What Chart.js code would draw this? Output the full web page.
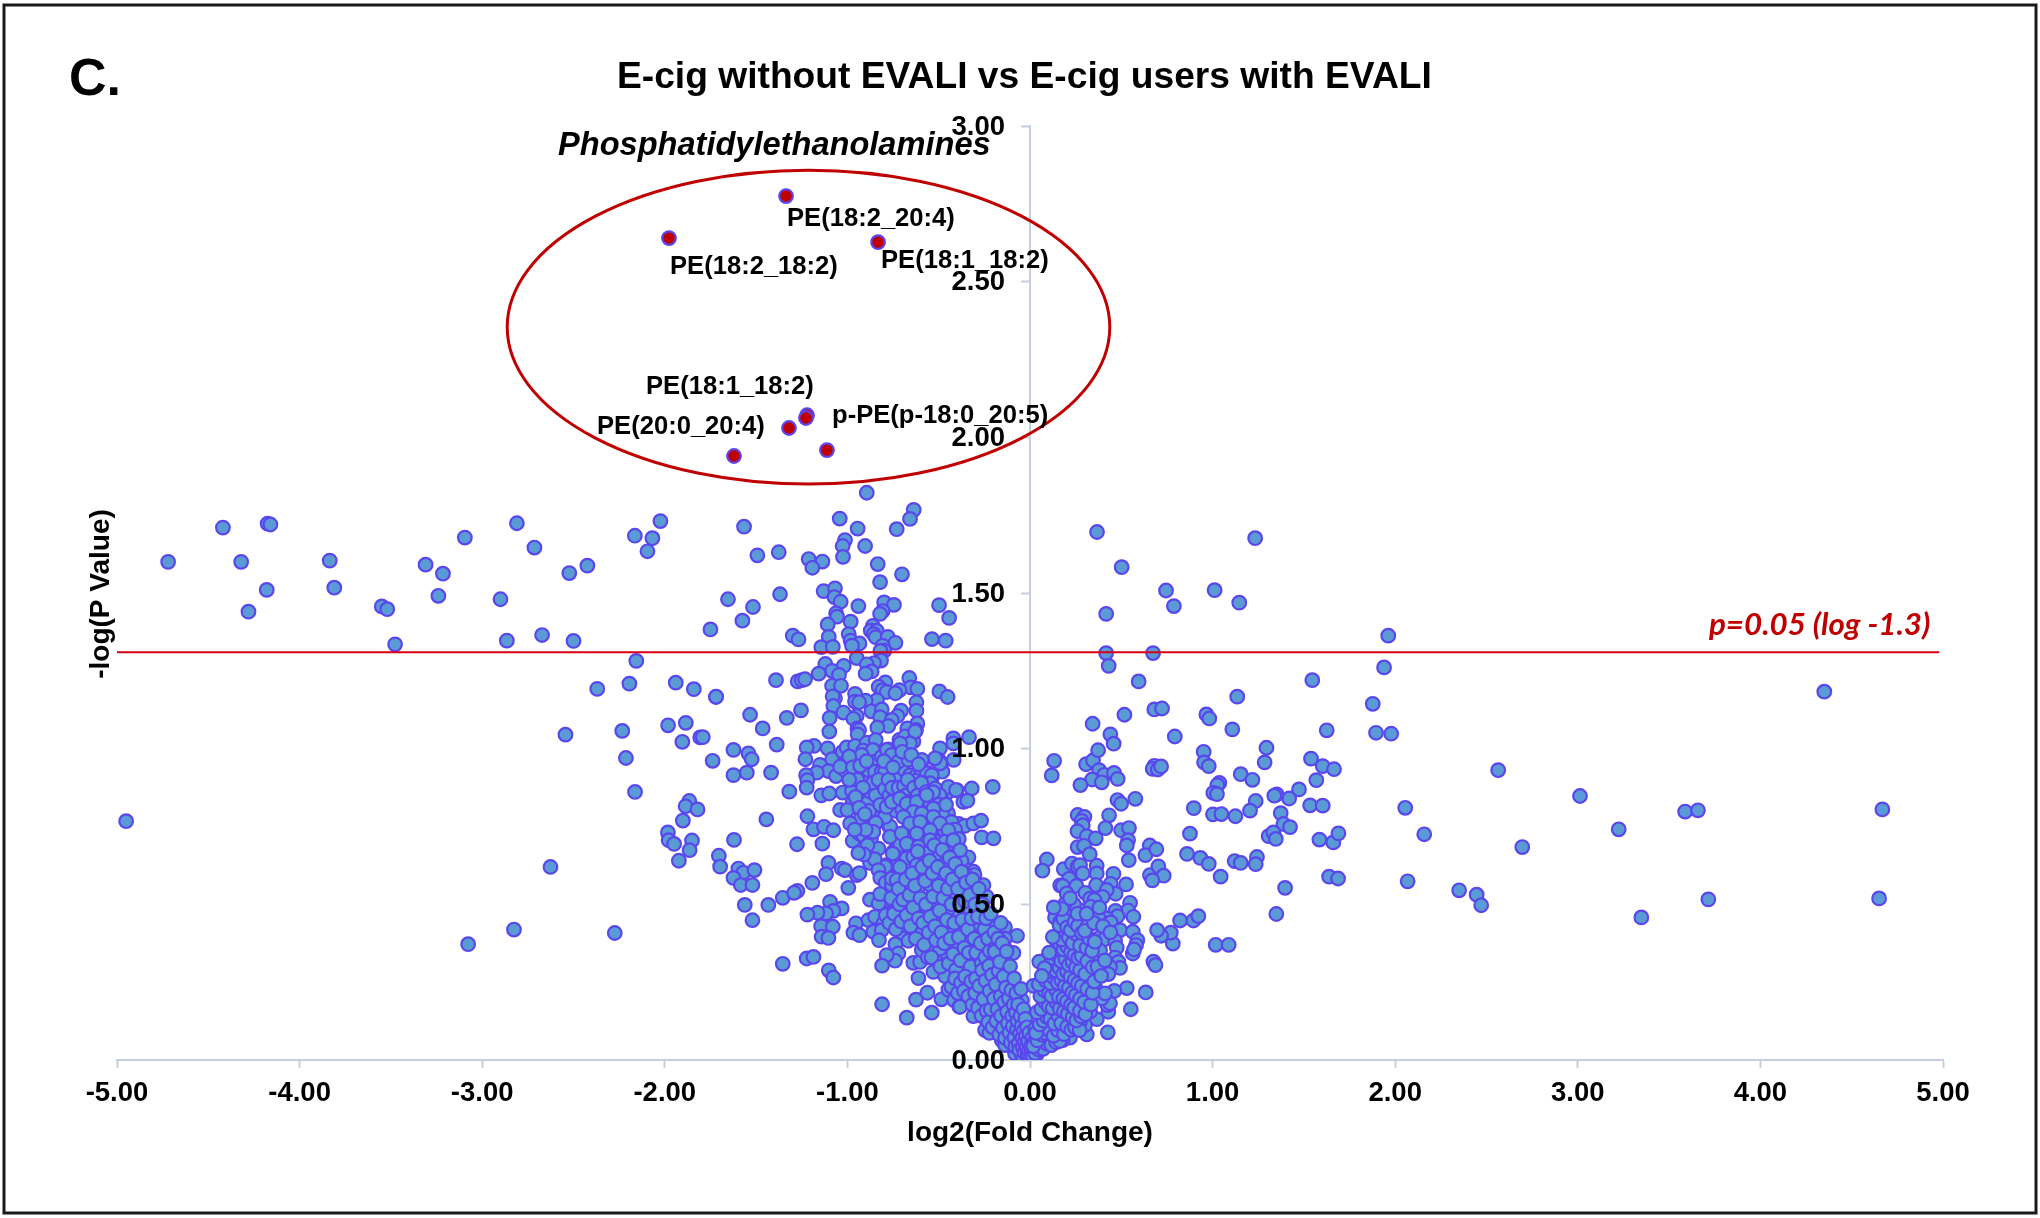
<!DOCTYPE html>
<html>
<head>
<meta charset="utf-8">
<title>E-cig without EVALI vs E-cig users with EVALI</title>
<script src="https://cdn.jsdelivr.net/npm/chart.js@4/dist/chart.umd.min.js"></script>
<style>
html,body{margin:0;padding:0;background:#fff;overflow:hidden}
canvas{display:block}
</style>
</head>
<body>
<canvas id="volcano" width="2040" height="1218"></canvas>
<script>
/* ===== DATA: [log2(fold change), -log(p)] ===== */

const xTicks = [-5,-4,-3,-2,-1,0,1,2,3,4,5]
const yTicks = [0,0.5,1,1.5,2,2.5,3]
const pCutoff = 1.31

const farLeft = [
[-4.95,.767],[-4.72,1.60],[-4.42,1.71],[-4.32,1.60],[-4.18,1.51],[-4.28,1.44],[-4.175,1.723],[-4.16,1.72],
[-3.835,1.604],[-3.81,1.517],[-3.55,1.457],[-3.52,1.448],[-3.477,1.335],[-3.31,1.591],[-3.215,1.562],[-3.24,1.491],
[-3.095,1.678],[-2.81,1.724],[-2.714,1.646],[-2.90,1.48],[-2.865,1.347],[-2.672,1.365],[-2.50,1.346],[-2.523,1.564],
[-2.424,1.588],[-2.164,1.684],[-2.068,1.676],[-2.095,1.634],[-2.024,1.731],[-2.156,1.282],[-2.194,1.209],[-2.37,1.192],
[-2.544,1.045],[-2.233,1.057],[-2.213,.970],[-2.163,.861],[-2.626,.620],[-2.826,.419],[-3.077,.372],[-2.274,.408]
]

const leftEdge = [
[-1.94,1.212],[-1.841,1.191],[-1.982,1.075],[-1.885,1.083],[-1.904,1.022],[-1.806,1.036],[-1.72,1.166],
[-1.866,.832],[-1.886,.815],[-1.821,.805],[-1.901,.769],[-1.983,.731],[-1.979,.706],[-1.949,.694],[-1.851,.705],
[-1.864,.674],[-1.923,.640],[-1.704,.656],[-1.697,.621],[-1.792,1.037],[-1.624,.996],[-1.387,1.013],[-1.542,.985],
[-1.524,.966],[-1.738,.961],[-1.551,.923],[-1.418,.923],[-1.624,.915],[-1.318,.862],[-1.444,.773],[-1.621,.707],
[-1.276,.693],[-1.597,.615],[-1.570,.602],[-1.509,.610],[-1.624,.585],[-1.584,.562],[-1.520,.562],[-1.354,.521],
[-1.433,.498],[-1.562,.498],[-1.520,.449],[-1.354,.309],[-1.533,1.109],[-1.332,1.099],[-1.464,1.065],[-1.719,1.167]
]

const leftUpper = [
[-.894,1.822],[-.637,1.767],[-.657,1.738],[-1.566,1.713],[-1.042,1.739],[-.944,1.707],[-.730,1.705],[-1.013,1.670],
[-1.026,1.651],[-1.024,1.616],[-.903,1.651],[-1.493,1.621],[-1.376,1.631],[-1.212,1.609],[-1.137,1.601],[-1.192,1.581],
[-.834,1.593],[-.701,1.560],[-.821,1.535],[-1.130,1.506],[-1.068,1.515],[-1.071,1.487],[-1.037,1.472],[-1.654,1.480],
[-1.517,1.455],[-1.369,1.496],[-.940,1.458],[-.799,1.470],[-.745,1.462],[-.807,1.442],[-.821,1.433],[-.498,1.461],
[-.443,1.420],[-1.575,1.411],[-1.750,1.383],[-1.062,1.435],[-1.057,1.424],[-1.108,1.399],[-.982,1.408],[-.861,1.394],
[-.872,1.379],[-.840,1.379],[-.856,1.368],[-.845,1.358],[-.993,1.368],[-1.102,1.359],[-.779,1.359],[-.737,1.340],
[-1.299,1.363],[-1.268,1.351],[-.537,1.352],[-.462,1.347],[-.982,1.347],[-.934,1.338],[-.975,1.331],[-1.143,1.326],
[-1.080,1.327],[-.807,1.331],[-.798,1.315],[-.819,1.314],[-.949,1.291],[-.816,1.283],[-.854,1.275],[-.894,1.271],
[-.867,1.248],[-.900,1.241],[-1.121,1.272],[-1.020,1.266],[-1.084,1.250],[-1.046,1.237],[-1.157,1.241],[-1.391,1.220],
[-1.272,1.216],[-1.250,1.220],[-1.232,1.223],[-.661,1.227],[-.792,1.213],[-.829,1.199],[-.807,1.188],[-.653,1.197],
[-.617,1.192],[-.715,1.188],[-.785,1.182],[-.737,1.178],[-1.084,1.202],[-1.035,1.202],[-.496,1.184],[-.451,1.166],
[-.958,1.176],[-1.068,1.162],[-1.081,1.168],[-.838,1.156],[-.900,1.154],[-.958,1.151],[-.936,1.149],[-.622,1.149],
[-.622,1.122],[-1.077,1.137],[-1.022,1.116],[-.869,1.120],[-.812,1.126],[-.706,1.122],[-.726,1.105],[-1.254,1.123],
[-1.097,1.099],[-.949,1.105],[-.967,1.096],[-.821,1.101],[-.757,1.092],[-.776,1.073],[-.836,1.068],[-.617,1.081],
[-.672,1.065],[-.624,1.060],[-1.099,1.055],[-.945,1.065],[-.936,1.060],[-.944,1.046],[-.420,1.033],[-.420,1.017],
[-.334,1.037],[-.493,1.001],[-.418,.964],[-.518,.966],[-.500,.964],[-.489,.944],[-.480,.926]
]

const leftMid = [
[-1.183,1.009],[-1.223,1.004],[-1.230,.966],[-1.108,1.001],[-1.084,.966],[-1.026,.990],[-1.004,1.004],[-.958,1.009],
[-.894,1.019],[-.845,1.028],[-.913,.994],[-.861,.996],[-.949,.964],[-.922,.980],[-1.004,.958],[-.849,.958],[-.812,.974],
[-.776,.998],[-.730,.990],[-.715,1.028],[-.684,1.039],[-.639,1.023],[-.675,.996],[-.693,.955],[-.767,.964],[-.739,.948],
[-.666,.969],[-.593,.960],[-.602,.932],[-1.150,.948],[-1.104,.928],[-1.168,.923],[-1.226,.915],[-1.062,.912],[-1.013,.931],
[-1.040,.942],[-.903,.910],[-.885,.931],[-.849,.926],[-.812,.926],[-.785,.921],[-.739,.912],[-.693,.926],[-.657,.915],
[-.620,.915],[-.556,.921],[-.538,.905],[-.629,1.055],[-.657,1.017],[-.711,1.017],[-.784,.996],[-.757,.98],[-.721,.958],
[-.666,.964],[-.492,.953],[-.52,.969],[-.593,.964],[-.611,.902],[-.602,.937],[-.565,.921],[-.538,.915],[-.547,.889],
[-.739,.902],[-.794,.926],[-1.219,.899],[-1.223,.875],[-1.143,.850],[-1.099,.856],[-1.026,.859],[-.975,.865],[-.971,.829],
[-.903,.847],[-.885,.829],[-.875,.862],[-.812,.854],[-.821,.846],[-.757,.819],[-.803,.787],[-.84,.771],[-.843,.762],
[-.77,.75],[-.401,.867],[-.456,.857],[-.447,.877],[-.520,.872],[-.204,.877],[-.319,.872],[-.405,.867],[-.483,.835],
[-.496,.851],[-.365,.829],[-.343,.833],[-.449,.792],[-.39,.758],[-.357,.752],[-.31,.76],[-.268,.769],[-.264,.715],
[-.2,.712],[-.529,.805],[-.584,.83],[-.629,.857],[-.711,.835],[-.766,.84],[-.73,.808],[-.784,.803],[-.794,.782],[-.638,.776],
[-.666,.771],[-.584,.776],[-.529,.771],[-.502,.739],[-.474,.701],[-.429,.707],[-.456,.728],[-.41,.696],[-.392,.658],
[-.337,.651],[-.31,.605],[-.304,.594],[-.766,.717],[-.766,.75],[-.693,.728],[-.638,.717],[-.575,.701],[-.529,.717],[-.66,.752],
[-.748,.669],[-.711,.691],[-.638,.68],[-.584,.664],[-.51,.669],[-.456,.659],[-.788,.626],[-.721,.632],[-.675,.648],
[-.629,.642],[-.565,.626],[-.51,.642],[-.474,.626],[-.429,.632],[-.401,.616],[-.757,.589],[-.693,.594],[-.611,.605],
[-.547,.589],[-.51,.589],[-.438,.61],[-1.219,.783],[-1.186,.741],[-1.128,.749],[-1.077,.738],[-1.040,.803],[-1.000,.803],
[-.925,.778],[-.858,.781],[-.794,.781],[-.845,.762],[-1.137,.695],[-.971,.704],[-.934,.727],[-.912,.72],[-.871,.708],
[-.858,.733],[-.767,.717],[-.872,.669],[-.830,.679],[-.876,.633],[-.794,.621],[-.752,.663],[-1.104,.633],[-1.117,.597],
[-1.192,.569],[-1.031,.615],[-1.013,.610],[-.949,.594],[-.934,.6],[-.995,.553],[-1.274,.543],[-1.292,.537],
[-.88,.8],[-.86,.89],[-.845,.85],[-.83,.9],[-.82,.82],[-.8,.96],[-.795,.87],[-.775,.9],[-.77,.85],[-.755,.875],[-.75,.94],
[-.735,.8],[-.72,.875],[-.7,.805],[-.7,.99],[-.69,.88],[-.68,.85],[-.67,.9],[-.66,.83],[-.65,.98],[-.645,.77],[-.635,.875],
[-.625,.8],[-.615,.85],[-.61,.95],[-.6,.74],[-.595,.89],[-.58,.72],[-.57,.86],[-.56,.78],[-.555,.68],[-.55,.83],[-.54,.74],
[-.53,.86],[-.525,.65],[-.515,.76],[-.505,.7],[-.5,.82],[-.49,.66],[-.48,.79],[-.47,.74],[-.465,.63],[-.46,.82],[-.44,.68],
[-.43,.765],[-.42,.655],[-.41,.74],[-.39,.71],[-.375,.64],[-.36,.6],
[-.99,.975],[-.97,.94],[-.945,.9],[-.93,.945],[-.915,.875],[-.895,.96],[-.955,.845],[-.99,.9],[-.935,.81],[-.905,.79],
[-.9,.74],[-.89,.69],[-.85,.645],[-.83,.61],[-.82,.585],[-.79,.57],[-.91,.66],[-.94,.665],[-.985,.76],[-.96,.74]
]

const leftLower = [
[-1.095,.508],[-1.031,.487],[-1.077,.479],[-1.117,.471],[-1.164,.473],[-1.219,.467],[-1.144,.430],[-1.080,.428],[-1.141,.396],
[-1.104,.392],[-.876,.515],[-.829,.503],[-.821,.533],[-.748,.508],[-.776,.471],[-.757,.562],[-.688,.535],[-.757,.583],[-.693,.471],
[-.953,.439],[-.885,.449],[-.849,.460],[-.967,.409],[-.934,.401],[-.858,.412],[-.803,.439],[-.812,.417],[-.827,.385],[-.703,.401],
[-.666,.383],[-.684,.433],[-.62,.428],[-.593,.409],[-.737,.372],[-.721,.342],[-.739,.319],[-.785,.337],[-.810,.303],[-1.223,.326],
[-1.186,.331],[-1.102,.288],[-1.077,.265],[-.639,.312],[-.602,.315],[-.611,.263],[-.593,.353],[-.529,.283],[-.465,.269],[-.407,.292],
[-.56,.33],[-.493,.321],[-.520,.374],[-.465,.347],[-.624,.194],[-.562,.216],[-.485,.195],[-.810,.179],[-.675,.136],[-.538,.152],
[-.447,.226],[-.416,.192],[-.387,.171],[-.310,.141],[-.246,.096],[-.222,.087],[-.071,.399],[-.137,.426],[-.137,.390],[-.091,.344],
[-.204,.433],[-.210,.380],[-.142,.319],[-.118,.278],[-.182,.299],
[-.785,.813],[-.757,.829],[-.712,.840],[-.675,.824],[-.620,.829],[-.566,.851],[-.529,.808],[-.639,.797],[-.593,.792],[-.693,.781],
[-.657,.760],[-.602,.765],[-.529,.781],[-.493,.760],[-.447,.738],[-.547,.738],[-.620,.728],[-.703,.728],[-.675,.695],[-.611,.685],
[-.547,.706],[-.465,.701],[-.420,.706],[-.383,.674],[-.511,.663],[-.566,.663],[-.639,.653],[-.712,.620],[-.620,.626],[-.566,.620],
[-.511,.588],[-.447,.626],[-.401,.615],[-.465,.556],[-.410,.567],[-.365,.572],[-.310,.546],[-.255,.562],[-.730,.578],[-.675,.567],
[-.611,.556],[-.547,.562],[-.547,.519],[-.493,.530],[-.438,.519],[-.401,.535],[-.347,.535],[-.292,.530],[-.237,.524],[-.620,.497],
[-.566,.487],[-.502,.492],[-.438,.481],[-.383,.471],[-.328,.487],[-.255,.471],[-.493,.449],[-.438,.428],[-.383,.433],[-.328,.439],
[-.274,.428],[-.420,.406],[-.347,.396],[-.292,.396],[-.237,.406],[-.547,.369],[-.493,.358],[-.401,.364],[-.347,.374],[-.310,.347],
[-.255,.364],[-.201,.337],[-.401,.337],[-.347,.321],[-.292,.315],[-.237,.321],[-.182,.289],[-.137,.299],[-.347,.289],[-.292,.278],
[-.237,.278],[-.201,.256],[-.155,.256],[-.118,.246],[-.401,.246],[-.347,.235],[-.310,.224],[-.255,.235],[-.201,.214],[-.146,.224],
[-.091,.203],[-.045,.192],[-.365,.203],[-.328,.192],[-.274,.181],[-.219,.181],[-.164,.181],[-.109,.171],[-.055,.160],[-.027,.149],
[-.383,.171],[-.255,.139],[-.191,.144],[-.137,.139],[-.082,.128],[-.027,.117],[-.182,.107],[-.128,.096],[-.073,.085],[-.009,.085],
[-.155,.064],[-.100,.074],[-.055,.064],[0,.053],[-.137,.048],[-.082,.021],[-.045,.016],[-.009,.010],[.019,.021]
]

const leftBand = [
[-.79,.465],[-.77,.44],[-.76,.52],[-.745,.47],[-.735,.42],[-.72,.55],[-.715,.5],[-.705,.445],[-.695,.515],[-.68,.58],[-.675,.465],
[-.66,.53],[-.655,.43],[-.645,.6],[-.64,.49],[-.63,.56],[-.625,.39],[-.615,.67],[-.61,.455],[-.6,.52],[-.59,.62],[-.585,.44],
[-.58,.37],[-.575,.575],[-.57,.5],[-.555,.41],[-.55,.64],[-.545,.46],[-.54,.33],[-.535,.6],[-.53,.525],[-.525,.69],[-.52,.43],
[-.515,.385],[-.505,.62],[-.5,.56],[-.495,.48],[-.49,.3],[-.485,.41],[-.48,.675],[-.475,.52],[-.47,.375],[-.46,.6],[-.455,.45],
[-.45,.55],[-.445,.31],[-.44,.65],[-.435,.39],[-.43,.5],[-.425,.58],[-.42,.34],[-.415,.44],[-.41,.63],[-.405,.29],[-.395,.55],
[-.39,.395],[-.385,.5],[-.38,.32],[-.375,.605],[-.37,.45],[-.36,.36],[-.355,.51],[-.35,.57],[-.34,.42],[-.335,.345],[-.33,.53],
[-.325,.3],[-.32,.455],[-.315,.58],[-.305,.39],[-.3,.5],[-.295,.345],[-.285,.46],[-.28,.55],[-.27,.375],[-.265,.31],[-.26,.5],
[-.25,.42],[-.245,.33],[-.24,.455],[-.23,.39],[-.22,.35],[-.215,.47],[-.205,.31],[-.195,.41],[-.19,.36],[-.175,.39],[-.17,.33],
[-.16,.44],[-.15,.35],[-.14,.36],
[-.43,.235],[-.41,.262],[-.395,.215],[-.378,.248],[-.362,.222],[-.355,.268],[-.338,.205],[-.322,.253],[-.315,.178],[-.3,.215],
[-.296,.262],[-.285,.168],[-.278,.238],[-.265,.142],[-.262,.288],[-.255,.195],[-.243,.255],[-.238,.158],[-.228,.122],[-.224,.302],
[-.221,.222],[-.215,.163],[-.208,.273],[-.205,.105],[-.198,.196],[-.193,.348],[-.187,.243],[-.184,.125],[-.178,.163],[-.172,.286],
[-.168,.082],[-.165,.315],[-.16,.205],[-.158,.142],[-.152,.375],[-.148,.103],[-.145,.268],[-.141,.186],[-.136,.071],[-.132,.232],
[-.128,.349],[-.125,.155],[-.121,.118],[-.116,.198],[-.112,.088],[-.109,.301],[-.105,.056],[-.102,.224],[-.098,.141],[-.094,.108],
[-.09,.177],[-.087,.262],[-.085,.072],[-.08,.043],[-.077,.152],[-.075,.215],[-.071,.098],[-.068,.125],[-.065,.178],[-.062,.052],
[-.058,.032],[-.055,.085],[-.052,.141],[-.049,.228],[-.046,.108],[-.042,.071],[-.04,.042],[-.036,.163],[-.034,.095],[-.031,.024],
[-.028,.058],[-.025,.132],[-.022,.078],[-.019,.04],[-.016,.105],[-.013,.016],[-.01,.06],[-.006,.03],[-.003,.088],[.002,.012],
[.005,.045],[.008,.028],[.012,.07],[.015,.014],[.02,.055],[.024,.03],[.028,.1],[.032,.045],[.036,.018]
]

const rightLower = [
[.092,.644],[.068,.608],[.185,.613],[.230,.631],[.261,.621],[.274,.626],[.289,.599],[.365,.624],[.365,.599],[.457,.598],
[.657,.594],[.703,.622],[.732,.592],[.670,.577],[.214,.582],[.165,.561],[.179,.559],[.254,.559],[.362,.562],[.442,.566],
[.526,.564],[.469,.534],[.420,.546],[.398,.524],[.201,.535],[.303,.537],[.329,.518],[.353,.514],[.212,.501],[.548,.505],
[.537,.480],[.566,.460],[.468,.479],[.479,.462],[.420,.455],[.442,.442],[.274,.481],[.234,.481],[.192,.471],[.298,.457],
[.374,.458],[.333,.492],[.137,.458],[.165,.444],[.210,.444],[.256,.417],[.183,.428],[.210,.412],[.493,.417],[.563,.412],
[.588,.385],[.581,.369],[.563,.342],[.57,.355],[.384,.394],[.407,.387],[.466,.383],[.475,.361],[.384,.351],[.296,.396],
[.148,.385],[.183,.380],[.228,.383],[.260,.358],[.292,.353],[.21,.347],[.165,.353],[.137,.332],[.092,.326],[.051,.316],
[.343,.319],[.466,.329],[.484,.315],[.493,.296],[.438,.299],[.429,.276],[.325,.299],[.292,.289],[.320,.278],[.119,.273],
[.073,.248],[.019,.238],[.174,.267],[.21,.283],[.256,.267],[.238,.24],[.302,.24],[.356,.235],[.530,.231],[.634,.217],
[.462,.222],[.676,.316],[.687,.305],[.782,.374],[.771,.409],[.718,.399],[.696,.417],[.822,.448],[.895,.448],[.922,.462],
[1.017,.370],[1.088,.370],[.552,.163],[.426,.089],[.311,.082],[.429,.155],[.424,.176],[.438,.182],[.393,.198],[.411,.214],
[.366,.131],[.329,.155],[.301,.112],[.274,.123],[.219,.072],[.179,.064]
]

const rightArm = [
[.028,.022],[.046,.034],[.072,.036],[.094,.052],[.117,.048],[.143,.057],[.163,.061],[.018,.044],[.041,.063],[.064,.081],[.083,.087],
[.108,.094],[.129,.078],[.152,.096],[.186,.083],[.033,.087],[.053,.114],[.074,.126],[.092,.138],[.112,.133],[.134,.117],[.154,.144],
[.171,.118],[.204,.107],[.226,.097],[.246,.105],[.272,.096],[.038,.153],[.062,.164],[.083,.186],[.103,.172],[.124,.167],[.146,.185],
[.163,.165],[.186,.156],[.207,.148],[.233,.137],[.254,.127],[.28,.14],[.057,.205],[.078,.224],[.104,.214],[.118,.206],[.142,.226],
[.158,.203],[.183,.197],[.203,.188],[.224,.176],[.242,.168],[.274,.158],[.303,.147],[.048,.243],[.088,.254],[.113,.247],[.131,.264],
[.153,.248],[.172,.256],[.192,.238],[.213,.232],[.232,.216],[.251,.208],[.274,.197],[.297,.186],[.334,.178],[.096,.284],[.122,.303],
[.143,.287],[.162,.296],[.181,.276],[.203,.284],[.222,.268],[.244,.257],[.263,.246],[.284,.238],[.313,.228],[.343,.216],[.118,.328],
[.153,.334],[.171,.317],[.194,.324],[.213,.306],[.233,.314],[.252,.297],[.274,.288],[.302,.276],[.352,.252],[.144,.357],[.163,.374],
[.184,.355],[.203,.365],[.224,.346],[.243,.337],[.264,.328],[.283,.335],[.314,.317],[.343,.298],[.153,.402],[.174,.387],[.193,.414],
[.212,.394],[.234,.376],[.253,.405],[.274,.368],[.162,.433],[.183,.452],[.204,.426],[.223,.417],[.244,.443],[.263,.431],[.284,.408],
[.31,.36],[.325,.39],[.34,.35],[.355,.38],[.37,.3],[.39,.27],[.41,.32],[.315,.43],[.3,.415],[.35,.44],[.24,.5],[.26,.47],[.19,.5],
[.22,.52],[.31,.47],[.175,.485],[.4,.43],[.38,.49],[.44,.41],[.125,.395],[.105,.345],[.08,.295],[.065,.27],[.13,.49]
]

const rightUpper = [
[.367,1.696],[.502,1.583],[.745,1.508],[.788,1.458],[.417,1.433],[.417,1.307],[.431,1.266],[.674,1.307],[.595,1.216],
[.517,1.109],[.681,1.126],[.723,1.129],[.343,1.080],[.440,1.046],[.458,1.016],[.966,1.11],[.982,1.097],[1.108,1.062],[.793,1.039],
[1.135,1.167],[1.625,1.059],[1.295,1.003],[.132,.961],[.119,.914],[.307,.950],[.345,.962],[.373,.995],[.378,.931],[.407,.916],
[.460,.922],[.480,.903],[.340,.901],[.393,.892],[.276,.883],[.951,.990],[.953,.956],[.979,.944],[.681,.945],[.672,.935],[.700,.933],
[.718,.943],[1.154,.918],[1.218,.900],[1.285,.956],[1.539,.968],[1.603,.944],[1.665,.934],[1.568,.899],[1.473,.869],[1.037,.890],
[1.026,.883],[1.004,.858],[1.024,.854],[1.236,.832],[1.205,.801],[1.419,.840],[1.351,.853],[1.338,.849],[1.534,.818],[1.603,.817],
[.479,.835],[.499,.823],[.577,.839],[.897,.809],[1.002,.789],[1.048,.790],[1.125,.783],[1.373,.793],[1.388,.758],[1.424,.748],
[.261,.787],[.298,.781],[.283,.768],[.289,.754],[.433,.786],[.260,.735],[.311,.719],[.360,.712],[.413,.745],[.499,.738],[.542,.745],
[.537,.706],[.530,.689],[.261,.684],[.296,.688],[.327,.661],[.541,.642],[.656,.689],[.632,.658],[.692,.677],[.876,.727],[.860,.662],
[.933,.649],[.979,.630],[1.044,.589],[1.121,.639],[1.154,.633],[1.243,.652],[1.236,.629],[1.307,.719],[1.333,.731],[1.346,.710],
[1.585,.708],[1.661,.699],[1.689,.728],[1.638,.589],[1.687,.583],[1.397,.553],[1.349,.469],[1.233,1.676],[1.011,1.509],[1.146,1.469],
[1.962,1.363],[1.939,1.261],[1.546,1.220],[1.877,1.144],[1.895,1.051],[1.978,1.048]
]

const farRight = [
[4.350,1.183],[2.564,.931],[3.012,.848],[2.055,.810],[3.588,.798],[3.658,.802],[4.668,.805],[3.224,.741],[2.159,.725],
[2.696,.684],[2.068,.574],[2.350,.545],[2.446,.531],[2.471,.497],[3.715,.516],[4.650,.519],[3.348,.458]
]

const peLipids = [
[-1.336,2.775],[-1.977,2.640],[-.832,2.627],[-1.221,2.071],[-1.227,2.062],[-1.32,2.03],[-1.621,1.94],[-1.112,1.959]
]

const peLabels = [
["PE(18:2_20:4)",787,219],
["PE(18:2_18:2)",670,267],
["PE(18:1_18:2)",881,261],
["PE(18:1_18:2)",646,387],
["PE(20:0_20:4)",597,427],
["p-PE(p-18:0_20:5)",832,416]
]

/* ===== ПОДПИСИ И ЭЛЛИПС ===== */

const toXY = arr => arr.map(([x,y])=>({x,y}))

const framePlugin = {

id:"frame",

beforeDraw(chart){
const {ctx} = chart
ctx.save()
ctx.strokeStyle="#1a1a1a"
ctx.lineWidth=3
ctx.strokeRect(4,5,2032,1208)
ctx.restore()
}

}

const textPlugin = {

id:"texts",

afterDraw(chart){

const {ctx,scales:{x,y}} = chart

ctx.save()

/* ellipse round the PE group */
ctx.strokeStyle="#c00000"
ctx.lineWidth=3
ctx.beginPath()
ctx.ellipse(x.getPixelForValue(-1.213),y.getPixelForValue(2.354),
  x.getPixelForValue(1.65)-x.getPixelForValue(0),
  y.getPixelForValue(0)-y.getPixelForValue(.504),0,0,Math.PI*2)
ctx.stroke()

ctx.fillStyle="#000"
ctx.textBaseline="middle"
ctx.textAlign="left"

ctx.font='bold 52px "Liberation Sans"'
ctx.fillText("C.",69,81)

ctx.font='bold 37.2px "Liberation Sans"'
ctx.fillText("E-cig without EVALI vs E-cig users with EVALI",617,78)

ctx.font='italic bold 32.6px "Liberation Sans"'
ctx.fillText("Phosphatidylethanolamines",558,146)

ctx.font='bold 25.6px "Liberation Sans"'
peLabels.forEach(([t,px,py])=>ctx.fillText(t,px,py))

/* y labels sit left of the axis in the middle of the plot, and a
   crossing axis ignores ticks.padding, so they are placed here */
ctx.font='bold 27.5px "Liberation Sans"'
ctx.textAlign="right"
y.ticks.forEach(t=>ctx.fillText(t.label,1005,y.getPixelForValue(t.value)+1))
ctx.textAlign="left"

ctx.fillStyle="#c00000"
ctx.font='italic bold 31.3px Lato'
ctx.fillText("p=0.05 (log -1.3)",1709,625)

ctx.fillStyle="#000"
ctx.font='bold 28px "Liberation Sans"'
ctx.translate(101,594)
ctx.rotate(-Math.PI/2)
ctx.textAlign="center"
ctx.fillText("-log(P Value)",0,0)

ctx.restore()

}

}

/* ===== ЧАРТ ===== */

const axisColor = "#c5cfe0"

new Chart(document.getElementById("volcano"),{

type:"scatter",

data:{

datasets:[

{
type:"line",
data:[{x:-5,y:pCutoff},{x:4.98,y:pCutoff}],
borderColor:"#d60012",
borderWidth:2,
pointRadius:0,
order:0
},

{
data:toXY(peLipids),
backgroundColor:"#c00000",
borderColor:"#5a46ee",
borderWidth:2.2,
pointRadius:6.8,
order:1
},

{
data:toXY([...farLeft,...leftEdge,...leftUpper,...leftMid,...leftLower,...leftBand,...rightLower,...rightArm,...rightUpper,...farRight]),
backgroundColor:"#5b9bd5",
borderColor:"#5a46ee",
borderWidth:2.2,
pointRadius:6.8,
order:2
}

]

},

options:{

responsive:false,
animation:false,

layout:{padding:{left:117,right:97,top:126,bottom:0}},

plugins:{
legend:{display:false},
tooltip:{enabled:false}
},

scales:{

x:{
type:"linear",
min:-5,
max:5,
afterFit(scale){scale.height=158},
afterBuildTicks(scale){scale.ticks=xTicks.map(value=>({value}))},
border:{color:axisColor,width:2},
grid:{drawOnChartArea:false,tickLength:8,tickColor:axisColor,tickWidth:2},
ticks:{
maxRotation:0,
padding:9,
color:"#000",
font:{family:"Liberation Sans",size:27.5,weight:"bold"},
callback:v=>v.toFixed(2)
},
title:{
display:true,
text:"log2(Fold Change)",
color:"#000",
font:{family:"Liberation Sans",size:28,weight:"bold"},
padding:{top:0,bottom:68}
}
},

y:{
type:"linear",
position:{x:0},
min:0,
max:3,
afterBuildTicks(scale){scale.ticks=yTicks.map(value=>({value}))},
border:{color:axisColor,width:2},
grid:{drawOnChartArea:false,tickLength:8,tickColor:axisColor,tickWidth:2},
ticks:{
display:false,
callback:v=>v.toFixed(2)
}
}

}

},

plugins:[framePlugin,textPlugin]

})
</script>
</body>
</html>
